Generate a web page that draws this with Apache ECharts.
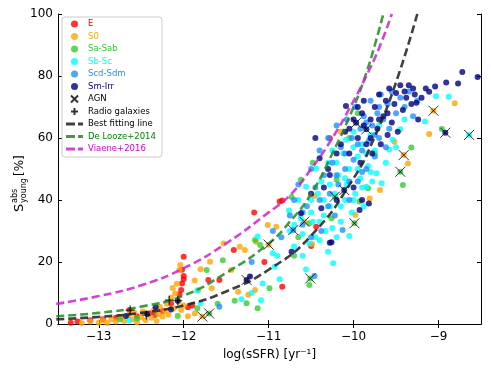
<!DOCTYPE html>
<html>
<head>
<meta charset="utf-8">
<script src="https://cdn.jsdelivr.net/npm/echarts@6/dist/echarts.min.js"></script>
<style>
  html,body{margin:0;padding:0;background:#fff}
  #chart{width:491px;height:368px}
</style>
</head>
<body>
<div id="chart"></div>
<script>
// ---------- data: [log(sSFR), S_young (%)] ----------
const ptsE = [[-13.33,0.4],[-13.25,0.8],[-13.1,1.2],[-12.95,1.5],[-12.8,2.0],[-12.64,4.5],[-12.55,2.5],[-12.4,3.5],[-12.34,2.9],
  [-12.25,4.2],[-12.15,6.5],[-12.05,9.5],[-12.03,11],[-12.02,13.1],[-12.0,14.4],[-12.0,15.5],[-12.02,17.5],[-12.0,21.7],
  [-11.95,5.4],[-11.9,6.0],[-11.71,14.2],[-11.58,14.2],[-11.41,23.9],[-11.17,36.0],[-10.84,39.8],[-10.84,12.0],
  [-10.87,39.5],[-10.5,25.2],[-10.44,31.4],[-10.28,59.9],[-11.05,20]];
const ptsS0 = [[-13.2,0.3],[-13.1,0.8],[-13.0,0.5],[-12.95,1.2],[-12.9,0.3],[-12.85,1.5],[-12.8,0.8],[-12.75,2.2],[-12.7,1.0],
  [-12.65,2.8],[-12.6,1.5],[-12.58,3.6],[-12.55,0.6],[-12.5,2.2],[-12.48,4.0],[-12.45,1.2],[-12.42,3.0],[-12.38,2.0],
  [-12.35,4.5],[-12.32,1.0],[-12.3,3.2],[-12.28,5.5],[-12.25,2.4],[-12.22,4.0],[-12.2,6.5],[-12.18,3.0],[-12.15,8.5],
  [-12.13,11.6],[-12.12,5.0],[-12.1,9.8],[-12.08,13],[-12.06,7.2],[-12.05,17.4],[-12.04,19.0],[-12.03,4.5],[-12.0,6.0],
  [-11.95,2.5],[-11.87,3.4],[-11.87,14.0],[-11.83,11],[-11.8,17.7],[-11.78,2.4],[-11.69,20.1],[-11.67,11.5],[-11.53,26.0],
  [-11.44,17.4],[-11.36,10.4],[-11.34,24.9],[-11.28,23.9],[-11.24,9.4],[-11.16,11],[-11.15,26.5],[-11.01,31.9],
  [-11.0,25.6],[-10.91,31.4],[-10.58,33],[-10.49,25.8],[-10.46,41.3],[-10.15,62],[-9.98,35.2],[-9.81,40.5],[-9.69,43.2],
  [-9.52,58.8],[-9.41,54.5],[-9.36,51.8],[-9.11,61.3],[-9.06,68.8],[-8.81,71.2]];
const ptsSa = [[-12.75,1.5],[-12.55,1.8],[-12.07,2.6],[-11.84,5.1],[-11.7,3.4],[-11.73,17.4],[-11.54,20.6],[-11.6,6.5],
  [-11.4,7.5],[-11.26,6.7],[-11.13,5.1],[-11.16,27.1],[-11.1,25.5],[-10.99,11.5],[-10.73,41],[-10.7,22],[-10.62,46.5],
  [-10.52,12.6],[-10.51,14.7],[-10.52,32.5],[-10.26,34.1],[-10.22,41.1],[-10.2,46.5],[-9.99,32.5],[-9.93,39.5],[-9.83,43.8],
  [-10.05,60],[-9.95,68],[-9.45,49.1],[-9.42,44.8],[-9.32,56.9],[-8.96,62.9],[-9.75,55],[-10.48,52],[-10.65,28]];
const ptsSb = [[-12.64,1.1],[-11.84,10.7],[-11.8,6.7],[-11.32,8],[-11.2,10],[-11.09,7.7],[-11.07,13.1],[-11.13,28.2],
  [-10.95,22.8],[-10.93,18.5],[-10.87,14.4],[-10.9,22],[-10.76,36.6],[-10.7,32],[-10.75,30],[-10.7,25],[-10.6,22],
  [-10.56,17.6],[-10.56,44.3],[-10.5,40],[-10.44,50.2],[-10.45,28],[-10.4,27],[-10.38,46],[-10.35,35],[-10.33,30],
  [-10.3,23.3],[-10.3,52],[-10.28,38],[-10.25,56],[-10.24,19.6],[-10.22,42],[-10.2,28],[-10.18,48],[-10.15,33],
  [-10.12,55],[-10.1,40],[-10.09,59.4],[-10.08,45],[-10.05,28.4],[-10.05,50],[-10.02,36],[-10.0,62],[-9.98,42],
  [-9.95,54],[-9.92,47],[-9.9,58],[-9.88,38],[-9.85,44.3],[-9.83,51],[-9.8,61],[-9.78,46],[-9.75,56],[-9.73,48.6],
  [-9.7,64],[-9.67,45.4],[-9.62,52],[-9.58,56.3],[-9.54,59.4],[-9.5,57],[-9.45,62.8],[-9.4,66],[-9.16,65.3],
  [-9.03,73.5],[-8.88,73.3],[-8.64,61],[-10.62,34],[-10.65,40],[-10.48,33],[-10.52,26],[-10.42,42],
  [-10.35,40],[-10.28,45],[-10.2,52],[-10.15,38],[-10.1,47],[-10.0,40],[-9.95,50],[-9.9,44],[-9.85,55],[-9.8,49],
  [-10.4,33],[-10.5,36],[-10.25,31],[-10.6,29],[-10.0,57]];
const ptsScd = [[-11.58,5.6],[-11.2,20],[-10.95,30],[-10.85,28],[-10.75,35],[-10.71,30.3],[-10.65,45],[-10.6,32],
  [-10.55,38],[-10.5,50],[-10.46,15.5],[-10.45,44],[-10.4,56],[-10.38,30],[-10.35,48],[-10.3,60],[-10.28,42],
  [-10.25,52],[-10.22,35],[-10.2,64],[-10.18,45],[-10.15,57],[-10.13,30.3],[-10.1,50],[-10.08,66],[-10.05,40],
  [-10.02,60],[-10.0,53],[-9.98,70],[-9.95,46],[-9.92,63],[-9.9,56],[-9.88,67],[-9.85,50],[-9.82,59],[-9.8,72],
  [-9.78,64],[-9.75,54],[-9.72,68],[-9.7,60],[-9.68,74],[-9.65,66],[-9.62,57],[-9.6,71],[-9.58,63],[-9.55,75],
  [-9.5,68],[-9.45,73],[-9.4,70],[-9.35,75],[-9.3,67],[-9.25,72],[-10.5,28],[-10.7,40],
  [-10.3,38],[-10.2,48],[-10.1,55],[-10.05,46],[-9.95,58],[-9.9,49],[-9.85,65],[-9.75,61],[-9.7,70],[-10.4,40],[-10.6,36]];
const ptsSm = [[-12.68,2.6],[-12.43,3.2],[-12.33,5.4],[-12.15,4.7],[-12.07,7.5],[-11.26,14.2],[-11.22,15.3],[-10.73,23.3],
  [-10.62,35.7],[-10.4,53.5],[-10.38,37.3],[-10.28,48.1],[-10.28,26.2],[-10.26,26.4],[-10.2,40],[-10.11,43.2],
  [-10.09,70.3],[-10.15,58],[-10.1,62],[-10.05,55],[-10.0,66],[-9.97,64.9],[-9.93,36.8],[-9.82,38.9],[-9.95,60],
  [-9.9,68],[-9.88,72],[-9.85,58],[-9.85,62.8],[-9.8,66],[-9.78,55],[-9.75,70],[-9.72,63],[-9.7,74],[-9.68,58],
  [-9.65,67],[-9.62,72],[-9.6,61],[-9.58,76],[-9.55,65],[-9.52,71],[-9.5,74.5],[-9.48,62],[-9.45,77],[-9.42,69],
  [-9.4,75],[-9.38,73],[-9.35,77],[-9.32,71],[-9.3,76],[-9.28,74],[-9.26,71.4],[-9.24,66],[-9.2,73],[-9.15,76],
  [-9.11,74.9],[-9.04,76.6],[-8.92,61.7],[-8.91,77.9],[-8.77,77.6],[-8.72,81.3],[-8.54,79.7],[-10.35,44],[-10.5,42],
  [-10.0,44],[-9.9,40],[-10.45,60],[-10.05,63],[-9.95,70],[-9.88,64],[-9.8,60],[-9.7,66],[-9.6,68],[-10.2,55],
  [-10.3,50],[-9.92,52]];
const ptsAGN = [[-11.78,2.4],[-11.7,3.4],[-11.26,14.2],[-11.0,25.6],[-10.71,30.3],[-10.58,33],[-10.51,14.7],
  [-10.22,41.1],[-10.11,43.2],[-9.99,32.5],[-9.97,64.9],[-9.85,62.8],[-9.45,49.1],[-9.41,54.5],[-9.06,68.8],
  [-8.92,61.7],[-8.64,61]];
const ptsRadio = [[-12.63,4.5],[-12.44,2.9],[-12.17,7.7],[-12.07,7.5]];
// curves
const lineBest = [[-13.5,1.5],[-13,2.3],[-12.5,3.6],[-12,6],[-11.5,10.5],[-11,17.5],[-10.5,28.5],[-10,47],
  [-9.75,60.5],[-9.5,78],[-9.25,100]];
const lineDeLooze = [[-13.5,2.5],[-13,3.6],[-12.5,5.6],[-12,9.2],[-11.5,16.5],[-11,26],[-10.75,33],[-10.5,42],
  [-10.25,55],[-10,70],[-9.85,81],[-9.75,90],[-9.65,100]];
const lineViaene = [[-13.5,6.5],[-13,9],[-12.5,12.5],[-12,18],[-11.5,26],[-11,36],[-10.75,41.5],[-10.5,50],
  [-10.25,60],[-10,72],[-9.85,80],[-9.7,89],[-9.55,100]];
const xTicks = [-13,-12,-11,-10,-9];

const FONT = 'DejaVu Sans';
const cats = [
  {name:'E', color:'#ff0000', data:ptsE},
  {name:'S0', color:'#ffa500', data:ptsS0},
  {name:'Sa-Sab', color:'#32cd32', data:ptsSa},
  {name:'Sb-Sc', color:'#00ffff', data:ptsSb},
  {name:'Scd-Sdm', color:'#1e90ff', data:ptsScd},
  {name:'Sm-Irr', color:'#000080', data:ptsSm}
];
const curves = [
  {name:'Best fitting line', color:'rgba(30,30,30,0.85)', text:'#000', data:lineBest},
  {name:'De Looze+2014', color:'rgba(34,139,34,0.85)', text:'#008000', data:lineDeLooze},
  {name:'Viaene+2016', color:'rgba(204,34,204,0.85)', text:'#cc00cc', data:lineViaene}
];
const X_PATH = 'path://M0,0L10,10M10,0L0,10';
const PLUS_PATH = 'path://M5,0L5,10M0,5L10,5';
const DASH_PATH = 'path://M0,0H9V3H0Z M12,0H17V3H12Z';

const series = [];
cats.forEach(c=>series.push({
  name:c.name, type:'scatter', data:c.data, symbol:'circle', symbolSize:6,
  itemStyle:{color:c.color}, z:2
}));
curves.forEach(c=>series.push({
  name:c.name, type:'line', data:c.data, smooth:true, showSymbol:false, symbol:'none',
  lineStyle:{color:c.color, width:2.6, type:[8,4]}, itemStyle:{color:c.color}, z:3
}));
series.push({name:'AGN', type:'scatter', data:ptsAGN, symbol:X_PATH, symbolSize:10, symbolKeepAspect:true,
  itemStyle:{color:'rgba(0,0,0,0)', borderColor:'#000', borderWidth:1}, z:4});
series.push({name:'Radio galaxies', type:'scatter', data:ptsRadio, symbol:PLUS_PATH, symbolSize:9, symbolKeepAspect:true,
  itemStyle:{color:'rgba(0,0,0,0)', borderColor:'#000', borderWidth:1.2}, z:4});

const legendData = cats.map(c=>({name:c.name, icon:'circle', textStyle:{color:c.color}}))
  .concat([{name:'AGN', icon:X_PATH, textStyle:{color:'#000'}},
           {name:'Radio galaxies', icon:PLUS_PATH, textStyle:{color:'#000'}}])
  .concat(curves.map(c=>({name:c.name, icon:DASH_PATH, itemStyle:{color:c.color}, textStyle:{color:c.text}})));

const minus = v => (v<0 ? '\u2212' : '') + Math.abs(v);
const axisLine = {show:true, lineStyle:{color:'#000', width:1}};
const tick = {show:true, inside:true, length:4, lineStyle:{color:'#000'}};

const chart = echarts.init(document.getElementById('chart'), null, {renderer:'canvas'});
chart.setOption({
  animation:false,
  textStyle:{fontFamily:FONT},
  grid:{left:58, right:10, top:14, bottom:44},
  legend:{
    orient:'vertical', left:62, top:17, selectedMode:false,
    itemWidth:17, itemHeight:7, itemGap:2.5, symbolKeepAspect:true,
    padding:[2,6,3,4], backgroundColor:'#fff', borderColor:'#ccc', borderWidth:1, borderRadius:3,
    textStyle:{fontFamily:FONT, fontSize:8.5, lineHeight:10},
    data:legendData
  },
  xAxis:[
    {type:'value', min:-13.48, max:-8.5, position:'bottom', axisLine,
     axisTick:Object.assign({customValues:xTicks}, tick),
     axisLabel:{customValues:xTicks, formatter:minus, color:'#000', fontSize:12, margin:7, fontFamily:FONT},
     splitLine:{show:false},
     name:'log(sSFR) [yr\u207B\u00B9]', nameLocation:'middle', nameGap:25,
     nameTextStyle:{color:'#000', fontSize:12, fontFamily:FONT}},
    {type:'value', min:-13.48, max:-8.5, position:'top', axisLine,
     axisTick:Object.assign({customValues:xTicks}, tick),
     axisLabel:{show:false}, splitLine:{show:false}}
  ],
  yAxis:[
    {type:'value', min:0, max:100, interval:20, position:'left', axisLine, axisTick:tick,
     axisLabel:{color:'#000', fontSize:12, margin:5, fontFamily:FONT}, splitLine:{show:false}},
    {type:'value', min:0, max:100, interval:20, position:'right', axisLine, axisTick:tick,
     axisLabel:{show:false}, splitLine:{show:false}}
  ],
  graphic:[{
    type:'group', x:20, y:182, rotation:Math.PI/2,
    children:[
      {type:'text', x:-30, y:0, style:{text:'S', fontSize:13, fontFamily:FONT, fill:'#000', verticalAlign:'middle'}},
      {type:'text', x:-21, y:-5, style:{text:'abs', fontSize:8, fontFamily:FONT, fill:'#000', verticalAlign:'middle'}},
      {type:'text', x:-21, y:4, style:{text:'young', fontSize:8, fontFamily:FONT, fill:'#000', verticalAlign:'middle'}},
      {type:'text', x:6, y:0, style:{text:'[%]', fontSize:12, fontFamily:FONT, fill:'#000', verticalAlign:'middle'}}
    ]
  }],
  series
});
</script>
</body>
</html>
